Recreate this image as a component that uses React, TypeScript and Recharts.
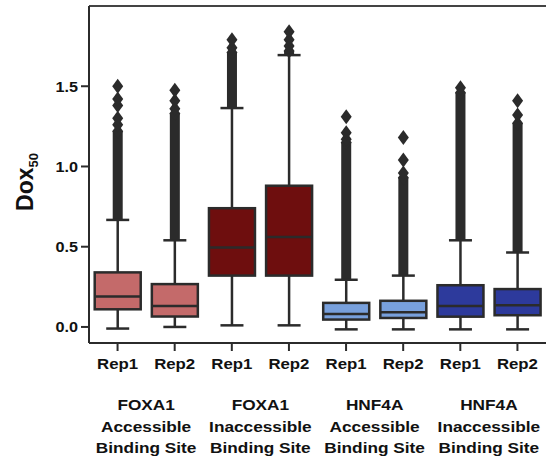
import React from "react";
import { ComposedChart, Bar, XAxis, YAxis, ReferenceLine } from "recharts";

const ids = ["c0", "c1", "c2", "c3", "c4", "c5", "c6", "c7"];
const repLabels = ["Rep1", "Rep2", "Rep1", "Rep2", "Rep1", "Rep2", "Rep1", "Rep2"];
const groupLabels = [
  ["FOXA1", "Accessible", "Binding Site"],
  ["FOXA1", "Inaccessible", "Binding Site"],
  ["HNF4A", "Accessible", "Binding Site"],
  ["HNF4A", "Inaccessible", "Binding Site"],
];
const whiskerLow = [-0.01, 0.0, 0.01, 0.01, -0.015, -0.015, -0.015, -0.015];
const q1 = [0.11, 0.065, 0.32, 0.32, 0.046, 0.056, 0.064, 0.073];
const median = [0.19, 0.13, 0.495, 0.56, 0.08, 0.092, 0.13, 0.136];
const q3 = [0.34, 0.267, 0.74, 0.88, 0.15, 0.163, 0.26, 0.236];
const whiskerHigh = [0.667, 0.54, 1.364, 1.694, 0.294, 0.32, 0.54, 0.464];
// top of the dense column of outliers
const denseTop = [1.22, 1.33, 1.71, 1.72, 1.15, 0.93, 1.46, 1.27];
// sparse outliers above the dense column
const sparseOutliers = [
  [1.26, 1.3, 1.38, 1.42, 1.5],
  [1.36, 1.41, 1.475],
  [1.74, 1.79],
  [1.75, 1.79, 1.84],
  [1.17, 1.21, 1.31],
  [0.96, 1.04, 1.18],
  [1.49],
  [1.32, 1.41],
];
const fills = ["#c46a6a", "#c46a6a", "#6e0e0e", "#6e0e0e", "#78a0dc", "#78a0dc", "#2d3a9c", "#2d3a9c"];
const yTicks = [0, 0.5, 1.0, 1.5];

const data = ids.map((id, i) => ({
  id,
  lo: whiskerLow[i],
  hi: Math.max(...sparseOutliers[i]),
  q1: q1[i],
  med: median[i],
  q3: q3[i],
  wHi: whiskerHigh[i],
  dense: denseTop[i],
  out: sparseOutliers[i],
  fill: fills[i],
}));

const EDGE = "#2b2b2b";
const FONT = "'Liberation Sans', Arial, sans-serif";

function BoxShape(props: any) {
  const { x, y, width, height, payload } = props;
  const { lo, hi } = payload;
  const yHi = y;
  const yLo = y + height;
  const py = (v: number) => yLo + ((v - lo) * (yHi - yLo)) / (hi - lo);
  const cx = x + width / 2;
  const cap = width / 4;
  const dw = 5.5;
  const dh = 7.5;
  const diamond = (v: number, k: number) => {
    const p = py(v);
    return (
      <polygon
        key={k}
        points={`${cx},${p - dh} ${cx + dw},${p} ${cx},${p + dh} ${cx - dw},${p}`}
        fill={EDGE}
      />
    );
  };
  return (
    <g>
      <rect x={cx - 5} y={py(payload.dense)} width={10} height={py(payload.wHi) - py(payload.dense)} fill={EDGE} />
      {diamond(payload.dense, -1)}
      {payload.out.map((v: number, k: number) => diamond(v, k))}
      <line x1={cx} x2={cx} y1={py(payload.wHi)} y2={py(payload.q3)} stroke={EDGE} strokeWidth={2.5} />
      <line x1={cx} x2={cx} y1={py(payload.q1)} y2={py(payload.lo)} stroke={EDGE} strokeWidth={2.5} />
      <line x1={cx - cap} x2={cx + cap} y1={py(payload.wHi)} y2={py(payload.wHi)} stroke={EDGE} strokeWidth={2.5} />
      <line x1={cx - cap} x2={cx + cap} y1={py(payload.lo)} y2={py(payload.lo)} stroke={EDGE} strokeWidth={2.5} />
      <rect
        x={x}
        y={py(payload.q3)}
        width={width}
        height={py(payload.q1) - py(payload.q3)}
        fill={payload.fill}
        stroke={EDGE}
        strokeWidth={2.5}
      />
      <line x1={x} x2={x + width} y1={py(payload.med)} y2={py(payload.med)} stroke={EDGE} strokeWidth={2.5} />
    </g>
  );
}

function XTick(props: any) {
  const { x, y, payload, index } = props;
  const half = payload && payload.offset ? payload.offset : 28.6;
  const i = ids.indexOf(payload.value);
  const idx = i >= 0 ? i : index;
  const group = idx % 2 === 0 ? groupLabels[idx / 2] : null;
  return (
    <g>
      <text
        transform={`translate(${x},${y + 16}) scale(1.12,1)`}
        textAnchor="middle"
        fontFamily={FONT}
        fontWeight="bold"
        fontSize={15}
        fill="#111"
      >
        {repLabels[idx]}
      </text>
      {group &&
        group.map((line, k) => (
          <text
            key={k}
            transform={`translate(${x + half},${y + 57 + k * 21.5}) scale(1.15,1)`}
            textAnchor="middle"
            fontFamily={FONT}
            fontWeight="bold"
            fontSize={15}
            fill="#111"
          >
            {line}
          </text>
        ))}
    </g>
  );
}

function YTick(props: any) {
  const { x, y, payload } = props;
  return (
    <text
      transform={`translate(${x - 1},${y + 5.5}) scale(1.08,1)`}
      textAnchor="end"
      fontFamily={FONT}
      fontWeight="bold"
      fontSize={15}
      fill="#111"
    >
      {Number(payload.value).toFixed(1)}
    </text>
  );
}

function YLabel() {
  return (
    <g>
      <text
        transform="translate(33,182) rotate(-90)"
        textAnchor="middle"
        fontFamily={FONT}
        fontWeight="bold"
        fill="#111"
        style={{ fontSize: 23 }}
      >
        Dox
        <tspan style={{ fontSize: 13 }} dy={5}>
          50
        </tspan>
      </text>
    </g>
  );
}

export default function App() {
  return (
    <div style={{ position: "absolute", left: 0, top: 0, background: "#fff" }}>
      <ComposedChart
        width={548}
        height={463}
        data={data}
        margin={{ top: 6, right: 2, bottom: 0, left: 0 }}
        barCategoryGap="10%"
      >
        <XAxis
          dataKey="id"
          height={120}
          tickSize={8}
          tickLine={{ stroke: EDGE, strokeWidth: 2 }}
          axisLine={{ stroke: EDGE, strokeWidth: 2 }}
          tick={<XTick />}
          interval={0}
        />
        <YAxis
          width={89}
          domain={[-0.1, 2.0]}
          ticks={yTicks}
          allowDataOverflow
          tickSize={8}
          tickLine={{ stroke: EDGE, strokeWidth: 2 }}
          axisLine={{ stroke: EDGE, strokeWidth: 2 }}
          tick={<YTick />}
          label={() => <YLabel />}
        />
        <YAxis
          yAxisId="right"
          orientation="right"
          width={0}
          domain={[0, 1]}
          tick={false}
          tickLine={false}
          axisLine={{ stroke: "#444", strokeWidth: 2 }}
        />
        <ReferenceLine y={2.0} stroke="#444" strokeWidth={2} ifOverflow="extendDomain" />
        <Bar dataKey={(d: any) => [d.lo, d.hi]} shape={<BoxShape />} isAnimationActive={false} />
      </ComposedChart>
    </div>
  );
}
